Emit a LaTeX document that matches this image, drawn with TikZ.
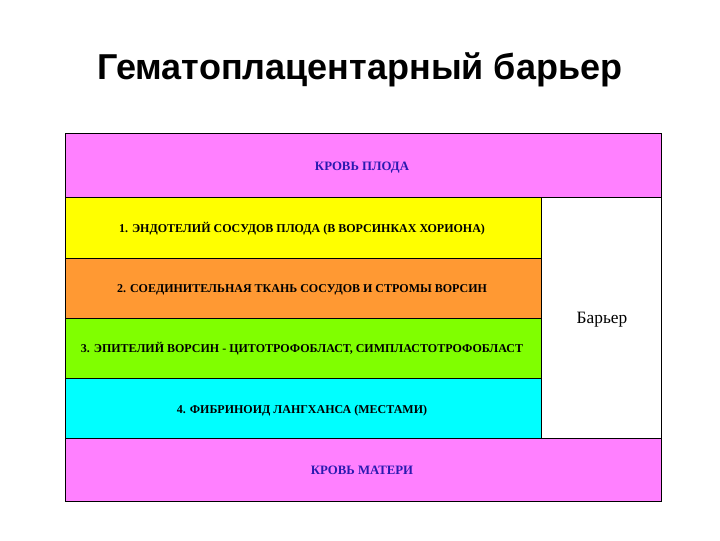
\documentclass[tikz,border=0pt]{standalone}
\usepackage{fontspec}
\setmainfont{Liberation Serif}
\newfontfamily\titlefont{Liberation Sans}
\newfontfamily\serfont{Liberation Serif}
\begin{document}
\begin{tikzpicture}[x=0.75pt,y=-0.75pt,
  layer/.style={draw=black,line width=0.7pt,inner sep=0pt,outer sep=0pt},
  ltext/.style={inner sep=0pt,text height=0.66em,text depth=0pt,font=\serfont\bfseries\fontsize{9}{11}\selectfont,text=black},
  btext/.style={ltext,text=bloodtext,font=\serfont\bfseries\fontsize{9.6}{11}\selectfont},
]
\definecolor{bloodpink}{HTML}{FF80FF}
\definecolor{bloodtext}{HTML}{2A1AB0}
\definecolor{yel}{HTML}{FFFF00}
\definecolor{ora}{HTML}{FF9933}
\definecolor{gre}{HTML}{80FF00}
\definecolor{cya}{HTML}{00FFFF}
\useasboundingbox (0,0) rectangle (720,540);
\node (title) at (360,70) {\titlefont\bfseries\fontsize{27}{31}\selectfont Гематоплацентарный барьер};
\node[layer,fill=bloodpink,minimum width=596*0.75pt,minimum height=64*0.75pt] (fetal) at (363,165) {};
\node[layer,fill=yel,minimum width=476*0.75pt,minimum height=61*0.75pt] (l1) at (303,227.5) {};
\node[layer,fill=ora,minimum width=476*0.75pt,minimum height=60*0.75pt] (l2) at (303,288) {};
\node[layer,fill=gre,minimum width=476*0.75pt,minimum height=60*0.75pt] (l3) at (303,348) {};
\node[layer,fill=cya,minimum width=476*0.75pt,minimum height=60*0.75pt] (l4) at (303,408) {};
\node[layer,fill=white,minimum width=120*0.75pt,minimum height=241*0.75pt] (bar) at (601,317.5) {};
\node[layer,fill=bloodpink,minimum width=596*0.75pt,minimum height=63*0.75pt] (mat) at (363,469.5) {};
\node[btext] (fetaltext) at (362,166) {КРОВЬ ПЛОДА};
\node[ltext] (l1text) at (302,228) {1. ЭНДОТЕЛИЙ СОСУДОВ ПЛОДА (В ВОРСИНКАХ ХОРИОНА)};
\node[ltext] (l2text) at (302,288.5) {2. СОЕДИНИТЕЛЬНАЯ ТКАНЬ СОСУДОВ И СТРОМЫ ВОРСИН};
\node[ltext] (l3text) at (302,348.5) {3. ЭПИТЕЛИЙ ВОРСИН - ЦИТОТРОФОБЛАСТ, СИМПЛАСТОТРОФОБЛАСТ};
\node[ltext] (l4text) at (302,409) {4. ФИБРИНОИД ЛАНГХАНСА (МЕСТАМИ)};
\node[btext] (mattext) at (362,470) {КРОВЬ МАТЕРИ};
\node[font=\serfont\fontsize{13}{15}\selectfont] (bartext) at (602,320) {Барьер};
\end{tikzpicture}
\end{document}
